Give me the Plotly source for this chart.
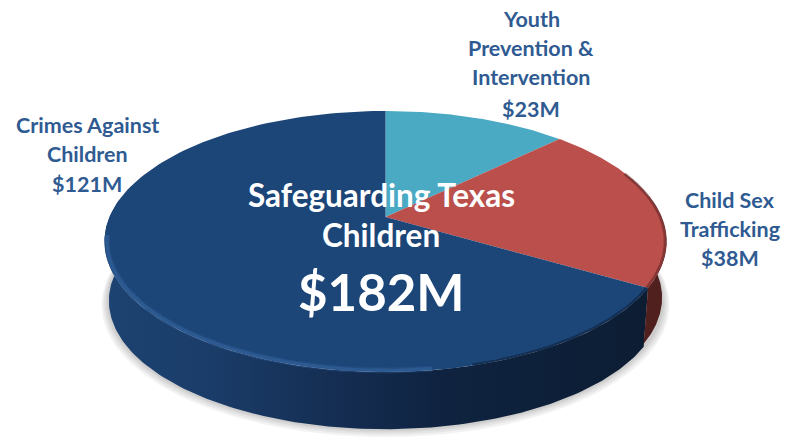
import numpy as np
import plotly.graph_objects as go

# Data
categories = ["Youth<br>Prevention &<br>Intervention", "Child Sex<br>Trafficking", "Crimes Against<br>Children"]
values = [23, 38, 121]
slice_colors = ["#4aa9c3", "#bb4f4c", "#1c4578"]
title_lines = ["Safeguarding Texas", "Children"]
total_label = "$182M"

# Pie geometry in a 799x438 pixel-scaled plot (perspective projection of a disc)
W, H = 799, 438
CX, CY = 385.5, 217
R = 276
PERSP_C, PERSP_B = 0.1877, -85.2
DEPTH = 60
BOTTOM_GROW = 0.985
label_pos = [(531, [19, 48, 77, 109]), (730, [200, 229, 258]), (87, [125, 154, 184])]
TEXT_BLUE = "#2f5b92"
FONT = "Lato"


def project(theta, extra=0.0, grow=1.0):
    u, v = np.sin(theta) * grow, np.cos(theta) * grow
    d = 1 + PERSP_C * v
    return CX + R * u / d, (CY + PERSP_B * v) / d + extra


def arc(a, b, n=160):
    return np.linspace(a, b, n)


fracs = np.array(values) / sum(values)
edges = np.concatenate([[0], np.cumsum(fracs)]) * 2 * np.pi
fig = go.Figure()


def add_poly(x, y, **kw):
    fig.add_trace(go.Scatter(x=x, y=y, mode="lines", fill="toself", line=dict(width=0),
                             hoverinfo="skip", showlegend=False, **kw))


def add_line(x, y, color, width):
    fig.add_trace(go.Scatter(x=x, y=y, mode="lines", line=dict(color=color, width=width),
                             hoverinfo="skip", showlegend=False))


# Soft shadow beneath the disc
for g, off in [(1.01, 3), (1.004, 2), (0.998, 1), (0.992, 0.5)]:
    t = arc(np.radians(85), np.radians(275))
    x, y = project(t, DEPTH + off, g)
    x0, y0 = project(t[::-1], 0, 1.0)
    add_poly(np.r_[x, x0], np.r_[y, y0], fillcolor="rgba(0,0,0,0.05)")

# Side walls
red_end = edges[2]
t = arc(red_end, np.radians(278))
x1, y1 = project(t)
x2, y2 = project(t[::-1], DEPTH, BOTTOM_GROW)
add_poly(np.r_[x1, x2], np.r_[y1, y2], fillcolor="#14294a",
         fillgradient=dict(type="horizontal", colorscale=[
             [0, "#1d4372"], [0.2, "#1a3c68"], [0.45, "#142c50"], [0.62, "#0f2340"], [1, "#0c1d33"]]))
t = arc(np.radians(80), red_end)
x1, y1 = project(t)
x2, y2 = project(t[::-1], DEPTH - 3, BOTTOM_GROW)
add_poly(np.r_[x1, x2], np.r_[y1, y2], fillcolor="#4f201e")

# Top faces
for i in range(len(values)):
    t = arc(edges[i], edges[i + 1])
    x, y = project(t)
    add_poly(np.r_[CX, x, CX], np.r_[CY, y, CY], fillcolor=slice_colors[i])

# Rim bevels on the navy and red slices
t = arc(np.radians(172), np.radians(262))
x, y = project(t, 0, 0.992)
add_line(x, y, "rgba(60,110,170,0.22)", 6)
add_line(x, y, "rgba(70,120,180,0.30)", 3.5)
t = arc(red_end, np.radians(165))
x, y = project(t, 0, 0.996)
add_line(x, y, "rgba(8,20,40,0.45)", 2.5)
t = arc(edges[1] + 0.4, red_end)
x, y = project(t, 0, 0.996)
add_line(x, y, "rgba(70,25,25,0.45)", 3)

annotations = []
for name, v, (lx, ys) in zip(categories, values, label_pos):
    lines = name.split("<br>") + [f"${v}M"]
    for line, ly in zip(lines, ys):
        annotations.append(dict(x=lx, y=ly, xref="x", yref="y", text=f"<b>{line}</b>", showarrow=False,
                                font=dict(family=FONT, size=21.5, color=TEXT_BLUE)))
for line, ly in zip(title_lines, [195, 235]):
    annotations.append(dict(x=381, y=ly, xref="x", yref="y", text=f"<b>{line}</b>", showarrow=False,
                            font=dict(family=FONT, size=31.5, color="white")))
annotations.append(dict(x=381, y=291, xref="x", yref="y", text=f"<b>{total_label}</b>", showarrow=False,
                        font=dict(family=FONT, size=51, color="white")))

fig.update_layout(
    width=W, height=H, margin=dict(l=0, r=0, t=0, b=0),
    paper_bgcolor="white", plot_bgcolor="white", showlegend=False,
    xaxis=dict(range=[0, W], visible=False, fixedrange=True),
    yaxis=dict(range=[H, 0], visible=False, fixedrange=True),
    annotations=annotations,
)
fig.write_html("out.html", config={"displayModeBar": False},
               post_script="document.body.style.margin='0';document.documentElement.style.overflow='hidden';")
